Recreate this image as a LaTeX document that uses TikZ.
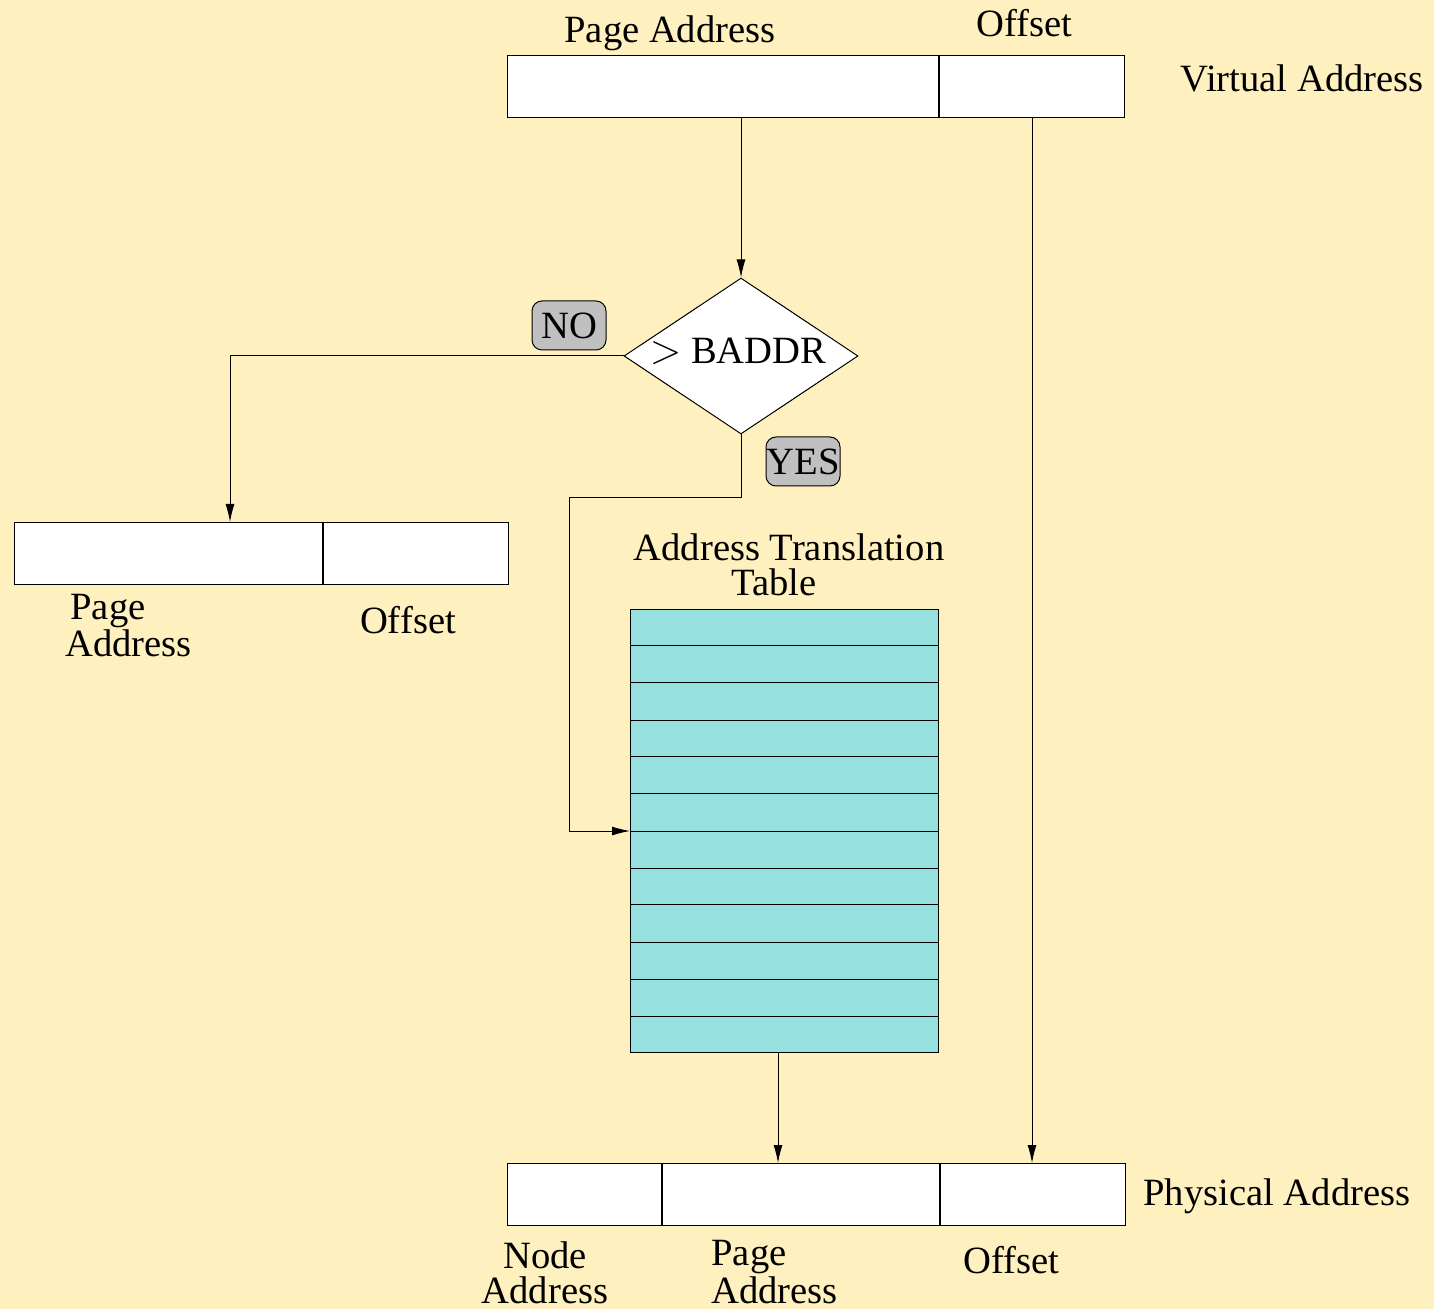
\documentclass[tikz,border=0pt]{standalone}
\usepackage{fontspec}
\setmainfont{Liberation Serif}
\usetikzlibrary{arrows.meta,shapes.geometric,calc}

\definecolor{paper}{RGB}{255,241,191}
\definecolor{tablecyan}{RGB}{150,224,224}
\definecolor{tagGray}{RGB}{192,192,192}

\tikzset{
  every node/.style={font=\fontsize{19.3}{17.5}\selectfont},
  field/.style={draw, fill=white, anchor=north west, inner sep=0pt, minimum height=31pt},
  tag/.style={draw, fill=tagGray, rounded corners=5pt, inner sep=0pt,
    minimum width=37pt, minimum height=24.5pt},
  lbl/.style={inner sep=0pt, anchor=base},
  link/.style={-{Latex[length=9pt,width=4.5pt]}}
}

\begin{document}
\begin{tikzpicture}[x=0.5pt,y=-0.5pt,line width=0.5pt]

\fill[paper] (0,0) rectangle (1434,1309);
\useasboundingbox (0,0) rectangle (1434,1309);

% virtual address
\node[field, minimum width=215.5pt] (vpage) at (507,55) {};
\node[field, minimum width=92.5pt] (voff) at (vpage.north east) {};
  \node[lbl] (vpageL) at (670,43) {Page Address};
  \node[lbl] (voffL) at (1024,37) {Offset};
  \node[lbl, anchor=base west] (vaddrL) at (1180,92) {Virtual Address};

% test
\node[draw, fill=white, diamond, minimum width=117pt, minimum height=78pt,
  inner sep=0pt] (baddr) at (741,356) {};
  \node[lbl] (baddrL) at (738,364) {$>$ BADDR};
\draw[link] (baddr.north |- vpage.south) -- (baddr.north);

\node[tag] (no) at (569,325.5) {NO};
\node[tag] (yes) at (803,461.5) {YES};

% local address
\node[field, minimum width=154pt] (lpage) at (14,522) {};
\node[field, minimum width=92.5pt] (loff) at (lpage.north east) {};
  \node[lbl, anchor=base west, align=left,
    font=\fontsize{19.3}{15}\selectfont] (lpageL) at (65,657) {\hspace*{2.5pt}Page\\Address};
  \node[lbl] (loffL) at (408,633) {Offset};

\coordinate (noDrop) at (230,522);
\draw[link] (baddr.west) -| (noDrop);

% translation table
\node[draw, fill=tablecyan, anchor=north west, inner sep=0pt,
  minimum width=154pt, minimum height=221.5pt] (att) at (630,609) {};
\foreach \i in {1,...,11}
  \draw ($(att.north west)!\i/12!(att.south west)$) -- ($(att.north east)!\i/12!(att.south east)$);
  \node[lbl, align=center] (attL) at (789,596) {Address Translation\\Table\hspace*{15pt}};

\coordinate (yesBend) at (569,498);
\coordinate (attIn) at ($(att.north west)!6/12!(att.south west)$);
\draw[link] (baddr.south) |- (yesBend) |- (attIn);

% physical address
\node[field, minimum width=77pt] (pnode) at (507,1163) {};
\node[field, minimum width=138.5pt] (ppage) at (pnode.north east) {};
\node[field, minimum width=92.5pt] (poff) at (ppage.north east) {};
  \node[lbl, align=center] (pnodeL) at (545,1303) {Node\\Address};
  \node[lbl, anchor=base west, align=left] (ppageL) at (711,1303) {Page\\Address};
  \node[lbl] (poffL) at (1011,1273) {Offset};
  \node[lbl, anchor=base west] (paddrL) at (1143,1205) {Physical Address};

\coordinate (attOut) at (778,1052);
\draw[link] (attOut) -- (attOut |- ppage.north);
\draw[link] (voff.south) -- (voff.south |- poff.north);

\end{tikzpicture}
\end{document}
